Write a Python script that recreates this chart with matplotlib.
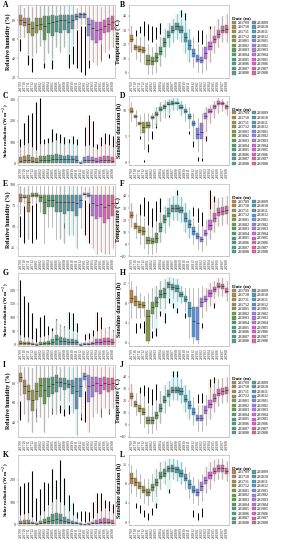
import numpy as np
import matplotlib
matplotlib.use("Agg")
import matplotlib.pyplot as plt
from matplotlib.patches import Patch
from seaborn.external import husl

nan = np.nan
months = ['201709', '201710', '201711', '201712', '201801', '201802', '201803', '201804',
          '201805', '201806', '201807', '201808', '201809', '201810', '201811', '201812',
          '201901', '201902', '201903', '201904', '201905', '201906', '201907', '201908']

# A - relative humidity
A_q1 = [75, 74, 66, 63, 66, 70, 59, 66, 63, 68, 66, 70, 66, 71, 80, 82, 82, 63, 59, 56, 59, 66, 68, 70]
A_med = [80, 78, 76, 72, 75, 76, 74, 77, 78, 79, 80, 80, 78, 80, 84, 86, 86, 76, 72, 70, 71, 74, 76, 78]
A_q3 = [85, 82, 82, 78, 82, 82, 84, 84, 85, 84, 85, 85, 85, 85, 86, 88, 88, 82, 80, 78, 78, 80, 82, 84]
A_lo = [62, 62, 45, 42, 45, 53, 36, 45, 40, 52, 46, 52, 46, 55, 72, 76, 76, 40, 36, 33, 36, 46, 50, 52]
A_hi = [95, 93, 95, 94, 95, 95, 96, 95, 96, 95, 95, 95, 95, 95, 93, 95, 95, 95, 95, 95, 94, 95, 95, 95]
A_olo = [48, nan, 33, 25, nan, nan, 30, nan, 28, nan, nan, nan, 30, 34, 30, 25, 22, 30, nan, nan, 38, nan, 40, nan]
A_ohi = [60, nan, 43, 40, nan, nan, 35, nan, 38, nan, nan, nan, 44, 53, 70, 74, 74, 38, nan, nan, 55, nan, 44, nan]

# B - temperature
B_q1 = [22, 16, 14.5, 14, 5.7, 5.7, 8, 12.7, 18.5, 24.4, 28, 30, 28, 22, 16, 11.5, 8, 7, 10, 16, 21, 24.4, 28, 28]
B_med = [24, 18, 16.5, 16, 9, 8.5, 11, 15.5, 21.5, 26.5, 30, 32.5, 30, 25, 19.5, 14, 10, 9, 14, 19, 23.5, 27, 30, 31]
B_q3 = [26.7, 19.7, 19, 18.5, 12.7, 11.5, 13.9, 18.5, 24.4, 29, 32.5, 35, 32.5, 28, 23, 17, 12.7, 11.5, 18.5, 22, 26, 30, 32.5, 33.5]
B_lo = [15, 10, 8, 6, -1, -1, 1, 5, 11, 18, 22, 24, 22, 14, 8, 4, 1, 0, 2, 8, 14, 18, 22, 22]
B_hi = [33, 25, 25, 25, 20, 18, 21, 25, 31, 35, 38, 41, 38, 36, 31, 25, 20, 18, 27, 30, 33, 38, 40, 41]
B_olo = [nan, 26, 28, 26, 23, 22, 24, 27, nan, nan, nan, nan, 39, 37, nan, nan, 22, 20, nan, 31, nan, nan, nan, nan]
B_ohi = [nan, 30, 33, 36, 34, 33, 32, 35, nan, nan, nan, nan, 44, 42, nan, nan, 30, 30, nan, 33, nan, nan, nan, nan]

# C - solar radiation
C_q1 = [1, 1, 1, 1, 0.5, 1, 1, 1, 1, 1, 1, 1, 1, 1, 1, 0.5, 1, 1, 1, 1, 1, 1, 1, 1]
C_med = [12, 14, 16, 10, 8, 14, 14, 16, 18, 20, 20, 18, 20, 18, 15, 2, 14, 16, 14, 10, 14, 16, 14, 12]
C_q3 = [30, 34, 38, 30, 24, 36, 36, 38, 40, 42, 38, 36, 38, 36, 34, 6, 32, 34, 30, 26, 32, 36, 34, 30]
C_lo = [0] * 24
C_hi = [75, 85, 95, 75, 60, 90, 90, 95, 100, 105, 95, 90, 95, 90, 85, 15, 80, 85, 75, 65, 80, 90, 85, 75]
C_olo = [78, 88, 98, 78, 63, 93, 93, 98, 103, 108, 98, 93, 98, 93, 88, nan, 83, 88, 78, 68, 83, 93, 88, 78]
C_ohi = [115, 190, 230, 240, 290, 310, 115, 118, 160, 145, 140, 125, 115, 130, 115, nan, 170, 230, 200, 90, 125, 145, 140, 130]

# D - sunshine duration
D_q1 = [9.4, 8.5, 7.2, 5.7, 6.5, 8.3, 8.8, 9.9, 10.3, 10.9, 11.0, 11.1, 10.3, 9.4, 8.3, 7.0, 4.4, 4.4, 8.3, 9.5, 10.3, 10.9, 11.0, 10.3]
D_med = [9.9, 8.8, 7.5, 6.8, 7.2, 8.6, 9.3, 10.2, 10.7, 11.2, 11.3, 11.3, 10.6, 9.8, 8.8, 7.5, 5.5, 5.8, 8.9, 9.9, 10.7, 11.3, 11.3, 10.7]
D_q3 = [10.4, 9.0, 7.8, 7.8, 7.8, 8.8, 9.6, 10.6, 11.0, 11.5, 11.7, 11.6, 10.9, 10.2, 9.3, 8.0, 6.6, 7.5, 9.4, 10.3, 11.0, 11.7, 11.5, 11.0]
D_lo = [8, 7, 5.5, 2.5, 4, 6.5, 7, 8, 8.5, 9.5, 10, 10, 9, 8, 6.5, 4.5, 2.2, 1.1, 6, 7.5, 8.5, 9.5, 9.8, 9]
D_hi = [11.5, 10, 9, 9.5, 9.5, 9.5, 10.5, 11.5, 12, 12.2, 12.3, 12.3, 11.8, 11.2, 10.5, 9.5, 8.5, 9.5, 10.5, 11, 11.8, 12.3, 12.2, 11.8]
D_olo = [nan, nan, 4.5, 0, 2, 4.4, 6.5, nan, nan, 8.7, nan, nan, nan, nan, 5.5, 3, 0.3, 0.2, 4, nan, nan, nan, nan, nan]
D_ohi = [nan, nan, 5, 0.5, 3.5, 6, 7.5, nan, nan, 9, nan, nan, nan, nan, 6, 4, 1, 0.8, 5, nan, nan, nan, nan, nan]

# E - relative humidity
E_q1 = [79, 84, 67, 85, 86, 80, 65, 73, 73, 67, 67, 65, 69, 69, 63, 72, 88, 86, 63, 59, 61, 54, 59, 63]
E_med = [86, 86, 80, 88, 88, 85, 80, 82, 82, 80, 80, 79, 80, 80, 78, 82, 89, 88, 78, 76, 77, 74, 76, 78]
E_q3 = [89, 88, 88, 90, 90, 88, 88, 88, 88, 88, 88, 88, 88, 88, 88, 88, 90, 90, 88, 88, 88, 88, 88, 88]
E_lo = [65, 78, 35, 78, 80, 68, 30, 50, 50, 35, 35, 30, 40, 40, 25, 48, 84, 80, 25, 17, 20, 17, 17, 25]
E_hi = [99, 98, 99, 99, 99, 99, 99, 99, 99, 99, 99, 99, 99, 99, 99, 99, 98, 98, 99, 99, 99, 99, 99, 99]
E_olo = [38, 30, nan, 30, 35, nan, nan, nan, nan, nan, nan, 48, nan, nan, nan, nan, 40, 30, nan, nan, nan, nan, nan, nan]
E_ohi = [63, 75, nan, 76, 78, nan, nan, nan, nan, nan, nan, 54, nan, nan, nan, nan, 82, 78, nan, nan, nan, nan, nan, nan]

# F - temperature
F_q1 = [21.7, 12.5, 9, 7.5, 0, 0, 1, 10, 17.5, 22.5, 27, 27, 25.5, 18, 13, 7.5, 4, 2, 7, 12, 18, 23, 24, 25]
F_med = [24, 15, 12, 11, 3, 2.5, 5, 14, 21, 26, 30, 30, 28, 22, 16.5, 11, 6.5, 4, 9.5, 16, 22, 26.5, 27.5, 28.5]
F_q3 = [26.7, 17.5, 15, 14, 6, 4.7, 9, 17.5, 24, 30, 32.5, 32.5, 31, 26, 20, 14, 9, 6, 12, 20, 26, 30, 31, 32]
F_lo = [14, 5, 0, -3, -8, -8, -7, 2, 9, 15, 20, 20, 18, 10, 5, 0, -4, -6, -1, 4, 10, 15, 16, 17]
F_hi = [34, 25, 23, 22, 15, 13, 18, 26, 32, 38, 40, 40, 39, 34, 28, 22, 17, 14, 20, 28, 34, 38, 39, 40]
F_olo = [nan, nan, 24, 23, 16, 14, 19, 27, nan, nan, nan, 41, nan, nan, nan, 23, 18, 15, nan, 29, 35, nan, nan, nan]
F_ohi = [nan, nan, 33, 39, 36, 30, 36, 38, nan, nan, nan, 45, nan, nan, nan, 31, 30, 27, nan, 45, 40, nan, nan, nan]

# G - solar radiation
G_q1 = [0.5] * 24
G_med = [8, 6, 6, 4, 1, 5, 6, 8, 10, 20, 16, 14, 12, 10, 9, 1, 3, 4, 6, 10, 12, 14, 13, 10]
G_q3 = [14, 10, 10, 8, 3, 10, 12, 14, 20, 36, 30, 26, 22, 20, 18, 4, 6, 8, 12, 20, 22, 24, 24, 20]
G_lo = [0] * 24
G_hi = [35, 25, 25, 20, 8, 25, 30, 35, 50, 90, 75, 65, 55, 50, 45, 10, 15, 20, 30, 50, 55, 60, 60, 50]
G_olo = [37, 27, 27, 22, 10, 27, 32, 37, 52, 92, 77, 67, 57, 52, 47, nan, 17, 22, 32, 52, 57, 62, 62, 52]
G_ohi = [235, 180, 155, 115, 60, 100, 110, 70, 60, 95, 75, 70, 120, 115, 80, nan, 40, 45, 55, 120, 100, 60, 65, 55]

# H - sunshine duration
H_q1 = [8.0, 7.5, 7.0, 7.0, 0.5, 5.8, 7.2, 9.0, 9.0, 11.0, 10.6, 10.3, 9.3, 8.2, 5.3, 1.2, 0.6, 7.2, 8.2, 9.2, 10.3, 11.0, 10.9, 10.0]
H_med = [9.1, 8.5, 7.8, 7.6, 5.4, 7.2, 8.2, 9.8, 10.0, 11.8, 11.3, 11.0, 9.8, 8.9, 7.0, 4.4, 4.0, 8.2, 8.9, 10.0, 10.8, 11.5, 11.4, 10.5]
H_q3 = [10.6, 9.5, 8.5, 8.2, 6.6, 8.2, 9.2, 10.6, 11.0, 12.2, 11.9, 11.6, 10.2, 9.5, 8.2, 7.2, 7.2, 9.0, 9.5, 10.6, 11.3, 12.0, 11.8, 11.0]
H_lo = [5, 5, 5, 5.5, 0, 3, 5, 7, 7, 9.5, 9, 8.5, 8, 6.5, 1, 0, 0, 5, 6.5, 7.5, 9, 9.5, 9.5, 8.5]
H_hi = [12.5, 11.5, 10, 9.5, 10, 11, 11.5, 12.5, 12.8, 13.2, 13, 12.8, 11.5, 11, 11, 11, 11, 11.5, 11, 12, 12.5, 13, 13, 12.5]
H_olo = [nan, 2, 3, 2, nan, 1, 1.5, 5.5, 4, 8, 7, 6, nan, 5, nan, nan, nan, 3, nan, nan, 7, nan, nan, nan]
H_ohi = [nan, 4, 4, 4.5, nan, 2.5, 3, 6.5, 6, 9, 8, 7, nan, 6, nan, nan, nan, 4, nan, nan, 8, nan, nan, nan]

# I - relative humidity
I_q1 = [81, 69, 63, 52, 63, 66, 59, 66, 69, 71, 76, 73, 75, 69, 54, 66, 83, 61, 66, 71, 69, 73, 71, 73]
I_med = [86, 77, 72, 63, 72, 78, 73, 77, 79, 81, 81, 80, 79, 77, 72, 77, 87, 77, 78, 80, 78, 80, 79, 80]
I_q3 = [90, 83, 78, 73, 80, 85, 85, 85, 86, 88, 85, 85, 83, 83, 85, 85, 90, 88, 86, 86, 85, 86, 85, 85]
I_lo = [68, 48, 40, 30, 40, 45, 30, 45, 50, 48, 63, 55, 62, 50, 27, 45, 76, 30, 45, 50, 45, 55, 50, 55]
I_hi = [97, 96, 96, 95, 97, 97, 97, 97, 97, 97, 96, 97, 96, 96, 97, 97, 97, 97, 97, 97, 96, 97, 96, 96]
I_olo = [42, nan, nan, nan, 45, nan, nan, nan, 48, nan, 50, 46, 48, nan, nan, 42, 40, nan, nan, nan, 45, nan, 48, nan]
I_ohi = [62, nan, nan, nan, 55, nan, nan, nan, 55, nan, 58, 54, 58, nan, nan, 50, 72, nan, nan, nan, 55, nan, 54, nan]

# J - temperature
J_q1 = [22, 15, 11, 8, 1, 1, 5, 11, 18, 23, 27, 27, 25, 19, 13, 8, 3, 3, 9, 14, 19, 24, 25, 26]
J_med = [24.5, 17.5, 14, 11, 4, 4, 8, 14, 21, 26, 29.5, 29.5, 28, 22, 16.5, 11, 5.5, 5.5, 12.5, 17.5, 22.5, 27, 28, 29]
J_q3 = [27, 20, 17, 14, 7, 7, 11, 17.5, 24, 29, 32, 32, 31, 25, 20, 14, 8, 8, 16, 21, 26, 30, 31, 32]
J_lo = [16, 8, 2, -2, -7, -7, -4, 2, 10, 16, 21, 21, 18, 11, 5, 0, -5, -5, 0, 5, 11, 16, 18, 19]
J_hi = [34, 27, 26, 23, 17, 16, 20, 28, 33, 37, 39, 39, 38, 33, 29, 23, 17, 17, 25, 31, 34, 38, 39, 40]
J_olo = [nan, nan, 27, 24, 18, 17, 21, nan, nan, nan, 40, 40, nan, nan, nan, nan, 18, 18, nan, 32, 35, nan, nan, nan]
J_ohi = [nan, nan, 32, 33, 32, 30, 34, nan, nan, nan, 45, 45, nan, nan, nan, nan, 26, 27, nan, 38, 40, nan, nan, nan]

# K - solar radiation
K_q1 = [0.5] * 24
K_med = [6, 8, 8, 5, 2, 6, 10, 15, 20, 22, 20, 15, 10, 6, 4, 2, 1, 2, 4, 8, 10, 12, 10, 8]
K_q3 = [15, 18, 20, 12, 5, 15, 25, 35, 45, 50, 45, 35, 25, 15, 10, 5, 3, 5, 10, 20, 25, 28, 25, 20]
K_lo = [0] * 24
K_hi = [40, 45, 50, 30, 12, 38, 60, 85, 100, 110, 100, 85, 60, 38, 25, 12, 8, 12, 25, 50, 60, 70, 60, 50]
K_olo = [42, 47, 52, 32, 14, 40, 62, 87, 102, 112, 102, 87, 62, 40, 27, 14, 10, 14, 27, 52, 62, 72, 62, 52]
K_ohi = [170, 184, 190, 240, 120, 160, 190, 185, 250, 200, 290, 210, 130, 95, 55, 60, 60, 55, 100, 140, 140, 110, 105, 90]

# L - sunshine duration
L_q1 = [8.0, 7.5, 7.0, 6.0, 5.5, 6.5, 7.5, 9.0, 9.5, 10.5, 10.5, 10.2, 9.5, 8.5, 7.0, 6.0, 5.5, 6.5, 8.0, 9.0, 10.0, 10.5, 10.5, 10.0]
L_med = [9.2, 8.4, 7.6, 6.8, 6.3, 7.3, 8.3, 9.7, 10.3, 11.2, 11.3, 11.0, 10.2, 9.3, 8.0, 6.8, 6.3, 7.5, 8.8, 9.8, 10.7, 11.3, 11.3, 10.7]
L_q3 = [10.2, 9.2, 8.3, 7.5, 7.0, 8.0, 9.0, 10.4, 11.0, 11.8, 11.9, 11.6, 10.8, 10.0, 8.8, 7.5, 7.0, 8.3, 9.5, 10.5, 11.3, 11.9, 11.9, 11.3]
L_lo = [6, 5.5, 5, 4, 3.5, 4.5, 5.5, 7, 8, 9, 9, 8.5, 8, 7, 5, 4, 3.5, 4.5, 6, 7, 8.5, 9, 9, 8.5]
L_hi = [12, 11, 10, 9, 9, 10, 11, 12.5, 12.8, 13.2, 13.2, 13, 12.5, 11.5, 10.5, 9.5, 9, 10, 11.5, 12.5, 13, 13.2, 13.2, 12.8]
L_olo = [nan, 3, 2, 1, 0.5, 1.5, 3, nan, nan, 6, nan, nan, nan, nan, nan, 1, 0.5, 1, nan, nan, nan, nan, nan, nan]
L_ohi = [nan, 4, 3.5, 2.5, 2, 3, 4, nan, nan, 7, nan, nan, nan, nan, nan, 2.5, 2, 3, nan, nan, nan, nan, nan, nan]

# jitter haze behind the boxes: p = pink, c = cyan
shade = {
    'A': "pppppcccccccccpp.ppppppp", 'B': "p......cccccccc....ppppp",
    'C': "pppppp.cccccccc..ppppppp", 'D': "......ccccccc.....pppppp",
    'E': "ppp.......ccccc.pppppppp", 'F': "p......cccccccc....ppppp",
    'G': "ppppppp.ccccccc..ppppppp", 'H': "......ccccccc.....pppppp",
    'I': "ppppppp.ccccccc.pppppppp", 'J': "p......cccccccc....ppppp",
    'K': "ppppppp.ccccccc..ppppppp", 'L': "......ccccccc.....pppppp",
}

colors = [husl.husl_to_rgb(h, 72, 60) for h in np.linspace(45, 352, 24)]
colors = [tuple(min(max(c, 0), 1) for c in col) for col in colors]

serif = 'Liberation Serif'


def panel(ax, letter, q1, med, q3, lo, hi, olo, ohi, ylabel, ylim, yticks):
    x = np.arange(len(months))
    stats = []
    for i in range(len(months)):
        stats.append(dict(q1=q1[i], med=med[i], q3=q3[i], whislo=lo[i], whishi=hi[i], fliers=[]))
    # haze
    for i, s in enumerate(shade[letter]):
        if s == '.':
            continue
        c = '#F8766D' if s == 'p' else '#00BFC4'
        bot = np.nanmin([lo[i], olo[i]])
        top = np.nanmax([hi[i], ohi[i]])
        ax.bar(x[i], top - bot, bottom=bot, width=0.9, color=c, alpha=0.12, lw=0, zorder=0)
    ax.vlines(x, olo, ohi, color='black', lw=0.7, zorder=1)
    bp = ax.bxp(stats, positions=x, widths=0.78, patch_artist=True, showfliers=False,
                showcaps=False, manage_ticks=False,
                boxprops=dict(lw=0.3, edgecolor='#666666'),
                whiskerprops=dict(lw=0.5, color='#A0A0A0'),
                medianprops=dict(lw=0.5, color='#333333'))
    for patch, col in zip(bp['boxes'], colors):
        patch.set_facecolor(col)
        patch.set_zorder(2)
    ax.set_xlim(-0.6, len(months) - 0.4)
    ax.set_ylim(*ylim)
    ax.set_yticks(yticks)
    ax.set_xticks(x)
    ax.set_xticklabels(months, rotation=90, fontsize=2.6, family=serif)
    for t in ax.get_yticklabels():
        t.set_fontsize(3.0)
        t.set_family(serif)
    ax.tick_params(length=1, width=0.3, pad=0.8, colors='#333333')
    for s in ax.spines.values():
        s.set_linewidth(0.4)
        s.set_color('#AAAAAA')
    left = letter in 'ACEGIK'
    fs = 3.6 if ylabel.startswith('Solar') else 4.2
    ax.set_ylabel(ylabel, fontsize=fs, family=serif, fontweight='bold')
    ax.yaxis.set_label_coords(-0.075 if left else -0.075, 0.5)
    ax.text(-0.16 if left else -0.09, 1.0, letter, transform=ax.transAxes,
            fontsize=5.5, family=serif, fontweight='bold', va='center', ha='left')


fig = plt.figure(figsize=(2.84, 5.5), dpi=100)
W, H = 284.0, 550.0
rows = [(5, 78), (96, 165), (184, 256), (273, 346), (365, 437), (455, 525)]
left_x = (18, 115)
right_x = (129, 229)

rh = 'Relative humidity (%)'
tp = 'Temperature (\u00b0C)'
sr = 'Solar radiation (W m$^{-2}$)'
sd = 'Sunshine duration (h)'

specs = [
    ('A', A_q1, A_med, A_q3, A_lo, A_hi, A_olo, A_ohi, rh, (19, 96), [20, 40, 60, 80]),
    ('B', B_q1, B_med, B_q3, B_lo, B_hi, B_olo, B_ohi, tp, (-3.5, 47.5), [0, 10, 20, 30, 40]),
    ('C', C_q1, C_med, C_q3, C_lo, C_hi, C_olo, C_ohi, sr, (-8, 318), [0, 100, 200, 300]),
    ('D', D_q1, D_med, D_q3, D_lo, D_hi, D_olo, D_ohi, sd, (-0.5, 12.7), [0, 5, 10]),
    ('E', E_q1, E_med, E_q3, E_lo, E_hi, E_olo, E_ohi, rh, (15, 101), [25, 50, 75, 100]),
    ('F', F_q1, F_med, F_q3, F_lo, F_hi, F_olo, F_ohi, tp, (-10, 50), [-10, 0, 10, 20, 30, 40]),
    ('G', G_q1, G_med, G_q3, G_lo, G_hi, G_olo, G_ohi, sr, (-4, 262), [0, 50, 100, 150, 200]),
    ('H', H_q1, H_med, H_q3, H_lo, H_hi, H_olo, H_ohi, sd, (-0.6, 14), [0, 4, 8, 12]),
    ('I', I_q1, I_med, I_q3, I_lo, I_hi, I_olo, I_ohi, rh, (25, 98.5), [40, 60, 80]),
    ('J', J_q1, J_med, J_q3, J_lo, J_hi, J_olo, J_ohi, tp, (-10, 50), [-10, 0, 10, 20, 30, 40]),
    ('K', K_q1, K_med, K_q3, K_lo, K_hi, K_olo, K_ohi, sr, (-3, 311), [0, 100, 200]),
    ('L', L_q1, L_med, L_q3, L_lo, L_hi, L_olo, L_ohi, sd, (-0.6, 14), [0, 4, 8, 12]),
]

for n, spec in enumerate(specs):
    r = n // 2
    xs = left_x if n % 2 == 0 else right_x
    top, bot = rows[r]
    ax = fig.add_axes([xs[0] / W, 1 - bot / H, (xs[1] - xs[0]) / W, (bot - top) / H])
    panel(ax, *spec)
    if n % 2 == 1:
        handles = [Patch(facecolor=c, edgecolor='#666666', lw=0.2) for c in colors]
        leg = ax.legend(handles, months, title='Date (m)', ncol=2, loc='upper left',
                        bbox_to_anchor=(1.01, 0.88), frameon=False,
                        prop=dict(family=serif, size=2.9), handlelength=1.0, handleheight=0.8,
                        handletextpad=0.3, columnspacing=0.5, labelspacing=0.15, borderpad=0.1)
        leg.get_title().set_fontsize(3.6)
        leg.get_title().set_fontfamily(serif)
        leg.get_title().set_fontweight('bold')
        leg._legend_box.align = 'left'

fig.savefig('out.png', dpi=100)
